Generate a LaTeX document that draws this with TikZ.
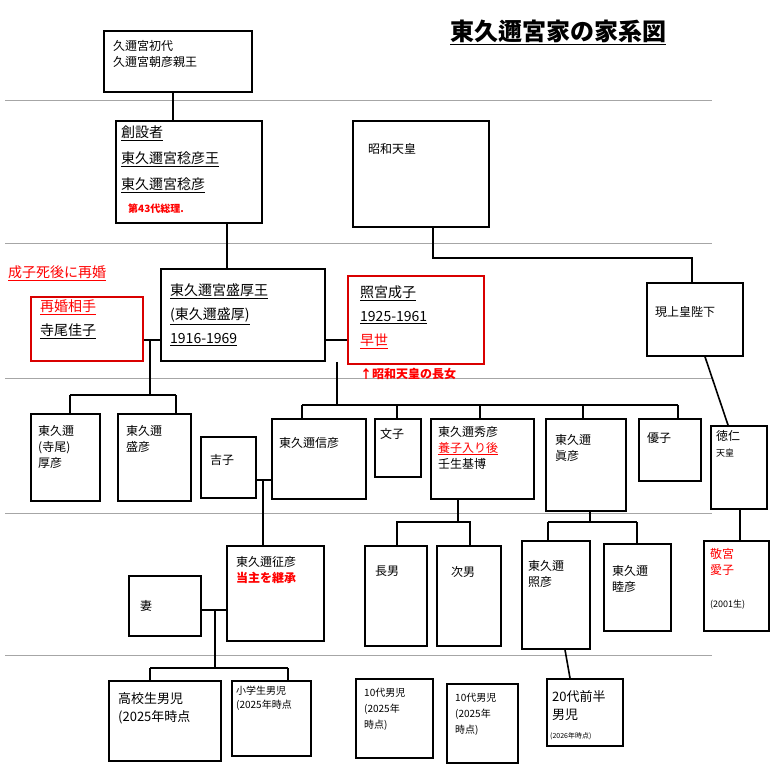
\documentclass[tikz,border=0pt]{standalone}
\usepackage{fontspec}
\setmainfont{Noto Sans CJK JP}
\tikzset{
  fbox/.style={draw, line width=1.8pt, anchor=north west, inner sep=0pt},
  rbox/.style={draw=red!85!black, line width=1.8pt, anchor=north west, inner sep=0pt},
  txt/.style={anchor=north west, align=left, font=\fontsize{12}{16}\selectfont, inner sep=0pt},
  sep/.style={draw=gray!70, line width=0.6pt},
  ln/.style={line width=1.6pt},
  hl/.style={red!85!black}
}
\newcommand{\ul}[1]{\underline{#1}}
\begin{document}
\begin{tikzpicture}[x=1pt,y=-1pt]
  \useasboundingbox (0,0) rectangle (774,771);
  % separators
  \foreach \yy in {100,243,378,513,655}
    \draw[sep] (5,\yy) -- (712,\yy);
  % title
  \node[txt, font=\fontsize{24}{28}\selectfont\bfseries] (title) at (450,20) {\ul{東久邇宮家の家系図}};
  % boxes
  \node[fbox, minimum width=148, minimum height=61] (first) at (103,30) {};
  \node[txt] at (113,40) {久邇宮初代\\久邇宮朝彦親王};
  \node[fbox, minimum width=146, minimum height=102] (naru) at (115,120) {};
  \node[txt, font=\fontsize{14}{26}\selectfont] at (121,126) {\ul{創設者}\\\ul{東久邇宮稔彦王}\\\ul{東久邇宮稔彦}};
  \node[txt, text=red, font=\fontsize{10}{12}\selectfont\bfseries] at (128,204) {第43代総理.};
  \node[fbox, minimum width=136, minimum height=106] (showa) at (352,120) {};
  \node[txt] at (368,143) {昭和天皇};
  \node[fbox, minimum width=164, minimum height=92] (mori) at (160,268) {};
  \node[txt, font=\fontsize{14}{24}\selectfont] at (170,284) {\ul{東久邇宮盛厚王}\\\ul{(東久邇盛厚)}\\\ul{1916-1969}};
  \node[rbox, minimum width=136, minimum height=88] (shige) at (347,275) {};
  \node[txt, font=\fontsize{14}{24}\selectfont] at (360,286) {\ul{照宮成子}\\\ul{1925-1961}\\\textcolor{red}{\ul{早世}}};
  \node[txt, text=red, font=\fontsize{12}{14}\selectfont\bfseries] at (360,368) {↑昭和天皇の長女};
  \node[fbox, minimum width=96, minimum height=73] (joko) at (646,282) {};
  \node[txt] at (655,306) {現上皇陛下};
  \node[rbox, minimum width=112, minimum height=64] (terao) at (30,296) {};
  \node[txt, font=\fontsize{14}{24}\selectfont] at (40,300) {\textcolor{red}{\ul{再婚相手}}\\\ul{寺尾佳子}};
  \node[txt, text=red, font=\fontsize{14}{16}\selectfont] at (8,266) {\ul{成子死後に再婚}};
  % generation 3
  \node[fbox, minimum width=69, minimum height=87] (atsu) at (30,413) {};
  \node[txt] at (38,425) {東久邇\\(寺尾)\\厚彦};
  \node[fbox, minimum width=73, minimum height=87] (morih) at (117,413) {};
  \node[txt] at (126,425) {東久邇\\盛彦};
  \node[fbox, minimum width=55, minimum height=61] (yoshi) at (200,436) {};
  \node[txt] at (210,454) {吉子};
  \node[fbox, minimum width=94, minimum height=80] (nobu) at (271,418) {};
  \node[txt] at (279,437) {東久邇信彦};
  \node[fbox, minimum width=46, minimum height=58] (fumi) at (374,418) {};
  \node[txt] at (380,428) {文子};
  \node[fbox, minimum width=103, minimum height=80] (hide) at (430,418) {};
  \node[txt] at (438,426) {東久邇秀彦\\\textcolor{red}{\ul{養子入り後}}\\壬生基博};
  \node[fbox, minimum width=80, minimum height=92] (masa) at (545,418) {};
  \node[txt] at (555,434) {東久邇\\眞彦};
  \node[fbox, minimum width=62, minimum height=62] (yuko) at (638,418) {};
  \node[txt] at (647,432) {優子};
  \node[fbox, minimum width=56, minimum height=83] (naruhito) at (710,425) {};
  \node[txt] at (716,430) {徳仁\\\small 天皇};
  % generation 4
  \node[fbox, minimum width=72, minimum height=60] (tsuma) at (128,575) {};
  \node[txt] at (140,600) {妻};
  \node[fbox, minimum width=97, minimum height=95] (yuki) at (226,545) {};
  \node[txt] at (236,556) {東久邇征彦\\\textcolor{red}{\bfseries 当主を継承}};
  \node[fbox, minimum width=62, minimum height=100] (cho) at (364,545) {};
  \node[txt] at (375,566) {長男};
  \node[fbox, minimum width=64, minimum height=100] (ji) at (436,545) {};
  \node[txt] at (451,566) {次男};
  \node[fbox, minimum width=68, minimum height=108] (teru) at (521,540) {};
  \node[txt] at (528,560) {東久邇\\照彦};
  \node[fbox, minimum width=67, minimum height=87] (mutsu) at (603,543) {};
  \node[txt] at (612,565) {東久邇\\睦彦};
  \node[fbox, minimum width=65, minimum height=90] (aiko) at (703,540) {};
  \node[txt, text=red] at (710,548) {敬宮\\愛子};
  \node[txt, font=\fontsize{9}{10}\selectfont] at (710,600) {(2001生)};
  % generation 5
  \node[fbox, minimum width=112, minimum height=80] (koko) at (108,680) {};
  \node[txt, font=\fontsize{13}{18}\selectfont] at (118,692) {高校生男児\\(2025年時点};
  \node[fbox, minimum width=79, minimum height=75] (sho) at (231,680) {};
  \node[txt, font=\fontsize{10}{14}\selectfont] at (236,686) {小学生男児\\(2025年時点};
  \node[fbox, minimum width=77, minimum height=79] (ju1) at (355,678) {};
  \node[txt, font=\fontsize{10}{16}\selectfont] at (364,688) {10代男児\\(2025年\\時点)};
  \node[fbox, minimum width=71, minimum height=79] (ju2) at (446,683) {};
  \node[txt, font=\fontsize{10}{16}\selectfont] at (455,693) {10代男児\\(2025年\\時点)};
  \node[fbox, minimum width=76, minimum height=67] (nijuu) at (546,678) {};
  \node[txt, font=\fontsize{13}{18}\selectfont] at (552,690) {20代前半\\男児};
  \node[txt, font=\fontsize{7}{8}\selectfont] at (550,732) {(2026年時点)};
  % connectors
  \draw[ln] (first.south -| 173,0) -- (naru.north -| 173,0);
  \draw[ln] (naru.south -| 227,0) -- (mori.north -| 227,0);
  \draw[ln] (showa.south -| 433,0) -- (433,258) -- (692,258) -- (joko.north -| 692,0);
  \draw[ln] (mori.east |- 0,340) -- (shige.west |- 0,340);
  \draw[ln] (terao.east |- 0,340) -- (mori.west |- 0,340);
  \draw[ln] (150,340) -- (150,395);
  \draw[ln] (70,395) -- (176,395);
  \draw[ln] (70,395) -- (atsu.north -| 70,0);
  \draw[ln] (176,395) -- (morih.north -| 176,0);
  \draw[ln] (mori.south -| 337,0) -- (337,405);
  \draw[ln] (302,405) -- (678,405);
  \foreach \xx/\nn in {302/nobu,397/fumi,480/hide,583/masa,678/yuko}
    \draw[ln] (\xx,405) -- (\nn.north -| \xx,0);
  \draw[ln] (joko.south -| 705,0) -- (naruhito.north -| 728,0);
  \draw[ln] (yoshi.east |- 0,480) -- (nobu.west |- 0,480);
  \draw[ln] (263,480) -- (yuki.north -| 263,0);
  \draw[ln] (tsuma.east |- 0,610) -- (yuki.west |- 0,610);
  \draw[ln] (215,610) -- (215,668);
  \draw[ln] (150,668) -- (288,668);
  \draw[ln] (150,668) -- (koko.north -| 150,0);
  \draw[ln] (288,668) -- (sho.north -| 288,0);
  \draw[ln] (hide.south -| 458,0) -- (458,522) -- (397,522) -- (cho.north -| 397,0);
  \draw[ln] (458,522) -- (470,522) -- (ji.north -| 470,0);
  \draw[ln] (masa.south -| 590,0) -- (590,522);
  \draw[ln] (548,522) -- (637,522);
  \draw[ln] (548,522) -- (teru.north -| 548,0);
  \draw[ln] (637,522) -- (mutsu.north -| 637,0);
  \draw[ln] (teru.south -| 565,0) -- (nijuu.north -| 570,0);
  \draw[ln] (naruhito.south -| 740,0) -- (aiko.north -| 740,0);
\end{tikzpicture}
\end{document}
